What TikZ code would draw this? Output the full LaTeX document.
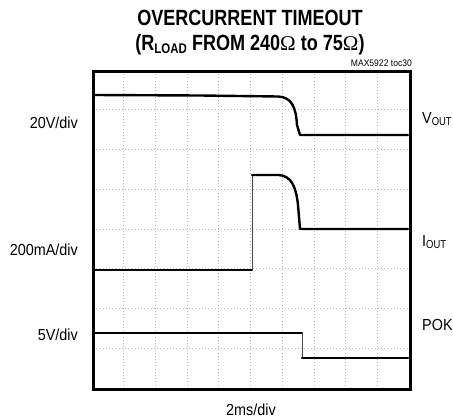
\documentclass[tikz,border=0pt]{standalone}
\usepackage{fontspec}
\setmainfont{Liberation Sans}
\newfontfamily\condb{Liberation Sans}[FakeStretch=0.82]
\newfontfamily\cond{Liberation Sans}[FakeStretch=0.9]
\newfontfamily\condn{Liberation Sans}[FakeStretch=0.82]
\newfontfamily\omegafont{Liberation Serif}
\begin{document}
\begin{tikzpicture}[x=1pt,y=-1pt,
  trace/.style={line width=2.4pt,line join=round,line cap=round},
  edge/.style={line width=0.8pt,black!70},
  gridline/.style={gray!55,line width=0.7pt,dash pattern=on 1pt off 2.2pt},
  lab/.style={font=\cond\fontsize{16}{18}\selectfont,inner sep=0pt},
  title/.style={font=\condb\bfseries\fontsize{22}{24}\selectfont,inner sep=0pt}]
\useasboundingbox (0,0) rectangle (453,420);
% grid
\foreach \i in {1,...,9} \draw[gridline] (92+31.7*\i,71) -- (92+31.7*\i,387);
\foreach \j in {1,...,7} \draw[gridline] (93,70+39.75*\j) -- (408,70+39.75*\j);
% frame
\node[draw,line width=2.6pt,minimum width=317pt,minimum height=318pt,inner sep=0pt,anchor=north west] (frame) at (92,70) {};
% VOUT
\coordinate (v0) at (93,95);
\coordinate (v1) at (278,96.5);
\coordinate (v2) at (300,135);
\coordinate (v3) at (408,135);
\draw[trace] (v0) -- (200,95.5) -- (v1) .. controls (292,97) and (296,108) .. (297,125) -- (v2) -- (v3);
% IOUT
\coordinate (i0) at (93,270);
\coordinate (i1) at (252,270);
\coordinate (i2) at (252,175);
\coordinate (i3) at (279,175);
\coordinate (i4) at (300,229);
\coordinate (i5) at (408,229);
\draw[trace] (i0) -- (i1);
\draw[edge] (i1) -- (i2);
\draw[trace] (i2) -- (i3) .. controls (291,176) and (296,186) .. (298,205) -- (i4) -- (i5);
% POK
\coordinate (p0) at (93,333);
\coordinate (p1) at (302,333);
\coordinate (p2) at (302,358);
\coordinate (p3) at (408,358);
\draw[trace] (p0) -- (p1);
\draw[edge] (p1) -- (p2);
\draw[trace] (p2) -- (p3);
% titles
\node[title] (t1) at (250,18) {OVERCURRENT TIMEOUT};
\node[title] (t2) at (250,45) {(R\raisebox{-3pt}{\fontsize{14}{15}\selectfont LOAD} FROM 240{\omegafont\mdseries\fontsize{21}{22}\selectfont Ω} to 75{\omegafont\mdseries\fontsize{21}{22}\selectfont Ω})};
\node[font=\cond\fontsize{9.5}{10}\selectfont,inner sep=0pt,anchor=east] (toc) at (412,63) {MAX5922 toc30};
% labels
\node[lab,anchor=east] (l1) at (78,123) {20V/div};
\node[lab,anchor=east] (l2) at (78,250) {200mA/div};
\node[lab,anchor=east] (l3) at (78,335) {5V/div};
\node[lab,anchor=west] (r1) at (422,119) {V\raisebox{-1.5pt}{\condn\fontsize{11.5}{12}\selectfont OUT}};
\node[lab,anchor=west] (r2) at (422,242) {I\raisebox{-1.5pt}{\condn\fontsize{11.5}{12}\selectfont OUT}};
\node[lab,anchor=west] (r3) at (422,325) {POK};
\node[lab] (x1) at (251,410) {2ms/div};
\end{tikzpicture}
\end{document}
